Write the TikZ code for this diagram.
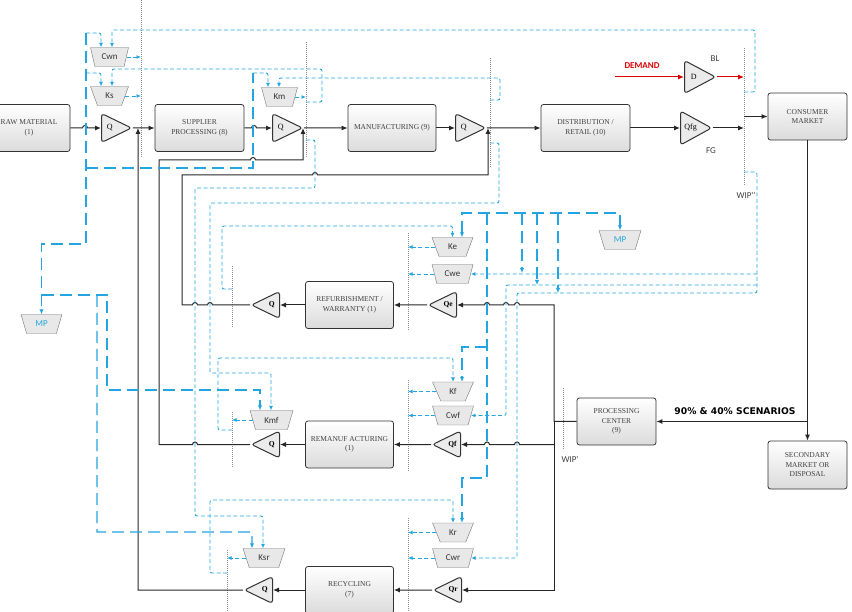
\documentclass[tikz,border=0pt]{standalone}
\usepackage{fontspec}
\setmainfont{Liberation Serif}
\newfontfamily\carlito{Carlito}
\newfontfamily\dejavu{DejaVu Sans}
\usepackage{tikz}
\usetikzlibrary{
    arrows.meta,
    shapes.geometric,
    calc
}
\definecolor{sigblue}{RGB}{35,165,225}
\tikzset{
    % Colors
    flow color/.style={black!85},
    signal color/.style={sigblue},
    demand color/.style={red!85!black},
    %
    % Nodes
    block/.style={draw=black!80,line width=0.8pt,rounded corners=2.5pt,top color=white,bottom color=black!14,
        minimum width=88,minimum height=47,align=center,text=black!75,font=\fontsize{7.5}{9.5}\selectfont},
    qtri/.style={isosceles triangle,isosceles triangle stretches,shape border rotate=0,minimum width=29,minimum height=30,
        inner sep=0pt,draw=black!80,line width=1pt,rounded corners=3pt,fill=black!8,font=\fontsize{8}{8}\selectfont},
    ltri/.style={qtri,shape border rotate=180,minimum width=27,minimum height=28,font=\bfseries\fontsize{7.5}{8}\selectfont},
    kbox/.style={trapezium,trapezium left angle=68,trapezium right angle=68,trapezium stretches=true,shape border rotate=180,
        minimum width=41,minimum height=19,inner sep=0pt,draw=black!55,fill=black!9,text=black!80},
    lab/.style={text=black!75},
    %
    % Arrows
    arrow tip/.tip={Latex[length=6pt,width=5pt]},
    arr/.style={->,>={arrow tip}},
    flow/.style={arr,flow color,line width=1pt},
    demand/.style={arr,demand color,line width=1pt},
    sig/.style={signal color,line width=0.9pt,dash pattern=on 4pt off 2.5pt,rounded corners=2pt,>={Latex[length=4.5pt,width=4pt]}},
    mpline/.style={signal color,line width=1.1pt,dash pattern=on 12pt off 6pt,>={Latex[length=5pt,width=4.5pt]}},
    wip/.style={black!45,line width=0.8pt,dash pattern=on 1pt off 1pt}
}
\tikzstyle{every node}=[font=\carlito\fontsize{9}{10}\selectfont]

\begin{document}
\begin{tikzpicture}[x=1pt,y=-1pt]
    \useasboundingbox (0,0) rectangle (852,612);

    % WIP lines
    \draw[wip] (141,0) coordinate (w1) -- (141,158);
    \draw[wip] (306,42) coordinate (w2) -- (306,158);
    \draw[wip] (490,58) coordinate (w3) -- (490,168);
    \draw[wip] (744,48) coordinate (w4) -- (744,185);
    \draw[wip] (408,233) coordinate (w5) -- (408,331);
    \draw[wip] (232,266) coordinate (w6) -- (232,328);
    \draw[wip] (408,380) coordinate (w7) -- (408,472);
    \draw[wip] (232,412) coordinate (w8) -- (232,467);
    \draw[wip] (563,388) coordinate (w9) -- (563,450);
    \draw[wip] (408,518) coordinate (w10) -- (408,612);
    \draw[wip] (227,550) coordinate (w11) -- (227,612);

    % blocks
    \node[block,minimum width=82] (raw) at (29,128) {RAW MATERIAL\\(1)};
    \node[block,minimum width=89] (sup) at (199.5,128) {SUPPLIER\\PROCESSING (8)};
    \node[block] (man) at (392,128) {MANUFACTURING (9)};
    \node[block,minimum width=89] (dist) at (585.5,128) {DISTRIBUTION /\\RETAIL (10)};
    \node[block,minimum width=79] (cons) at (807.5,116.5) {CONSUMER\\MARKET};
    \node[block,minimum width=79] (proc) at (616.5,421.5) {PROCESSING\\CENTER\\(9)};
    \node[block,minimum width=79,minimum height=48] (sec) at (807.5,465) {SECONDARY\\MARKET OR\\DISPOSAL};
    \node[block] (ref) at (349.5,305) {REFURBISHMENT /\\WARRANTY (1)};
    \node[block] (rem) at (349.5,444.5) {REMANUF ACTURING\\(1)};
    \node[block] (rec) at (349.5,590) {RECYCLING\\(7)};

    % queues
    \node[qtri,anchor=west] (q1) at (101,128) {Q};
    \node[qtri,anchor=west] (q2) at (272,128) {Q};
    \node[qtri,anchor=west] (q3) at (455,128) {Q};
    \node[qtri,anchor=west,minimum width=34,minimum height=31] (qfg) at (680,128) {Qfg};
    \node[qtri,anchor=west,minimum width=33,minimum height=31] (d) at (684,77) {D};
    \node[ltri,anchor=east] (qe) at (457,305) {Qe};
    \node[ltri,anchor=east] (qrf) at (280,305) {Q};
    \node[ltri,anchor=east] (qf) at (461,444.5) {Qf};
    \node[ltri,anchor=east] (qm) at (280,444.5) {Q};
    \node[ltri,anchor=east] (qr) at (462,590) {Qr};
    \node[ltri,anchor=east] (qc) at (273,590) {Q};

    % parameters
    \node[kbox,minimum width=38] (cwn) at (109.5,57) {Cwn};
    \node[kbox,minimum width=38] (ks) at (109.5,96) {Ks};
    \node[kbox,minimum width=36] (km) at (279.5,97) {Km};
    \node[kbox] (ke) at (452.5,247) {Ke};
    \node[kbox] (cwe) at (452.5,274) {Cwe};
    \node[kbox,text=sigblue,minimum width=42] (mpright) at (620,240) {MP};
    \node[kbox] (kf) at (453,391.5) {Kf};
    \node[kbox] (cwf) at (453,415.5) {Cwf};
    \node[kbox,minimum width=43] (kmf) at (271.5,420) {Kmf};
    \node[kbox] (kr) at (453,532.5) {Kr};
    \node[kbox] (cwr) at (453,558) {Cwr};
    \node[kbox,minimum width=42] (ksr) at (264,558) {Ksr};
    \node[kbox,text=sigblue] (mpleft) at (41.5,324) {MP};

    % labels
    \node[text=red!85!black,font=\carlito\bfseries\fontsize{9}{10}\selectfont] (dem) at (642,66) {DEMAND};
    \node[lab] (bl) at (715,59) {BL};
    \node[lab] (fg) at (711,151) {FG};
    \node[lab] (wipa) at (746,195) {WIP''};
    \node[lab] (wipb) at (570,459) {WIP'};
    \node[font=\dejavu\bfseries\fontsize{9.2}{10}\selectfont] (scen) at (735,411) {90\% \& 40\% SCENARIOS};

    % forward flow
    \draw[flow] (raw.east) -- (82.5,128) arc[start angle=180,end angle=360,radius=2.5] -- (q1.west);
    \draw[flow] (q1.east) -- (sup.west);
    \draw[flow] (sup.east) -- (251.5,128) arc[start angle=180,end angle=360,radius=2.5] -- (q2.west);
    \draw[flow] (q2.east) -- (man.west);
    \draw[flow] (man.east) -- (q3.west);
    \draw[flow] (q3.east) -- (dist.west);
    \draw[flow] (dist.east) -- (qfg.west);
    \draw[flow] (qfg.east) -- (w4 |- qfg.east);
    \draw[flow] (w4 |- cons.west) -- (cons.west);
    \draw[demand] (615,77) coordinate (dsrc) -- (d.west);
    \draw[demand] (d.east) -- (w4 |- d.east);
    \draw[flow] (cons.south) |- (proc.east);
    \draw[flow] (cons.south |- proc.east) -- (sec.north);

    % return flow
    \draw[flow] (proc.west) -- (554,421.5) -- (554,305) -- (519.5,305) arc[start angle=0,end angle=-180,radius=2.5]
        -- (508.5,305) arc[start angle=0,end angle=-180,radius=2.5]
        -- (489.5,305) arc[start angle=0,end angle=-180,radius=2.5] -- (qe.east);
    \draw[flow] (554,421.5) |- (qr.east);
    \draw[flow] (554,444.5) -- (519.5,444.5) arc[start angle=0,end angle=-180,radius=2.5]
        -- (489.5,444.5) arc[start angle=0,end angle=-180,radius=2.5] -- (qf.east);
    \draw[flow] (qe.west) -- (ref.east);
    \draw[flow] (ref.west) -- (qrf.east);
    \draw[flow] (qrf.west) -- (212.5,305) arc[start angle=0,end angle=-180,radius=2.5]
        -- (197.5,305) arc[start angle=0,end angle=-180,radius=2.5] -- (182,305) -- (182,175)
        -- (312.5,175) arc[start angle=180,end angle=360,radius=2.5] -- (488,175) -- (488,128);
    \draw[flow] (qf.west) -- (rem.east);
    \draw[flow] (rem.west) -- (qm.east);
    \draw[flow] (qm.west) -- (197.5,444.5) arc[start angle=0,end angle=-180,radius=2.5] -- (159,444.5) -- (159,160)
        -- (250.5,160) arc[start angle=180,end angle=360,radius=2.5] -- (303,160) -- (303,128);
    \draw[flow] (qr.west) -- (rec.east);
    \draw[flow] (rec.west) -- (qc.east);
    \draw[flow] (qc.west) -- (138,590) -- (138,128);

    % information signals
    \draw[sig,->] (w4 |- 0,92) -| (755,30) -| ([xshift=2.5pt]cwn.north);
    \draw[sig,->] (w2 |- 0,102) -| (322,69) -| ([xshift=2.5pt]ks.north);
    \draw[sig,->] (w3 |- 0,100) -| (500,78) -| ([xshift=-0.5pt]km.north);
    \draw[sig,->] (cwn.east) -- (w1 |- cwn.east);
    \draw[sig,->] (ks.east) -- (w1 |- ks.east);
    \draw[sig,->] (km.east) -- (w2 |- km.east);
    \draw[sig,->] (w2 |- 0,140) -| (315,188) -| (195,516) -| ([xshift=-1pt]ksr.north);
    \draw[sig,->] (w3 |- 0,143) -| (499,203) -| (210,373) -| ([xshift=-0.5pt]kmf.north);
    \draw[sig,->] (w6 |- 0,289) -| (222,226) -| (ke.north);
    \draw[sig,->] (w8 |- 0,430) -| (218,358) -| (kf.north);
    \draw[sig,->] (w11 |- 0,573) -| (210,500) -| (kr.north);
    \draw[sig,->] (w4 |- 0,172) -| (757,293) -| (517,558) -- (cwr.east);
    \draw[sig,->] (757,274) -- (cwe.east);
    \draw[sig,->] (757,285) -| (506,415.5) -- (cwf.east);
    \foreach \k/\w in {ke/w5,cwe/w5,kf/w7,cwf/w7,kr/w10,cwr/w10,kmf/w8,ksr/w11}
        \draw[sig,->] (\k.west) -- (\w |- \k.west);

    % market price
    \draw[mpline,->] (86,33) |- (mpleft.north |- 0,244) -- (mpleft.north);
    \draw[sig,->] (86,33) -| ([xshift=-8.5pt]cwn.north);
    \draw[sig,->] (86,73) -| ([xshift=-8.5pt]ks.north);
    \draw[mpline] (86,168) -| (253,73);
    \draw[sig,->] (253,73) -| ([xshift=-11.5pt]km.north);
    \draw[mpline,->] (mpleft.north |- 0,295) -| (107,390) -| ([xshift=-11.5pt]kmf.north);
    \draw[mpline,->] (97,295) |- (252,532) -- ([xshift=-12pt]ksr.north);
    \draw[mpline,<->] ([xshift=9.5pt]ke.north) |- (mpright.north |- 0,213) -- (mpright.north);
    \draw[mpline,->] (487,213) -- (487,478) -| ([xshift=9pt]kr.north);
    \draw[mpline,->] (487,347) -| ([xshift=9pt]kf.north);
    \draw[mpline,->] (522,213) -- (522,273);
    \draw[mpline,->] (537,213) -- (537,285);
    \draw[mpline,->] (558,213) -- (558,293);
\end{tikzpicture}
\end{document}
